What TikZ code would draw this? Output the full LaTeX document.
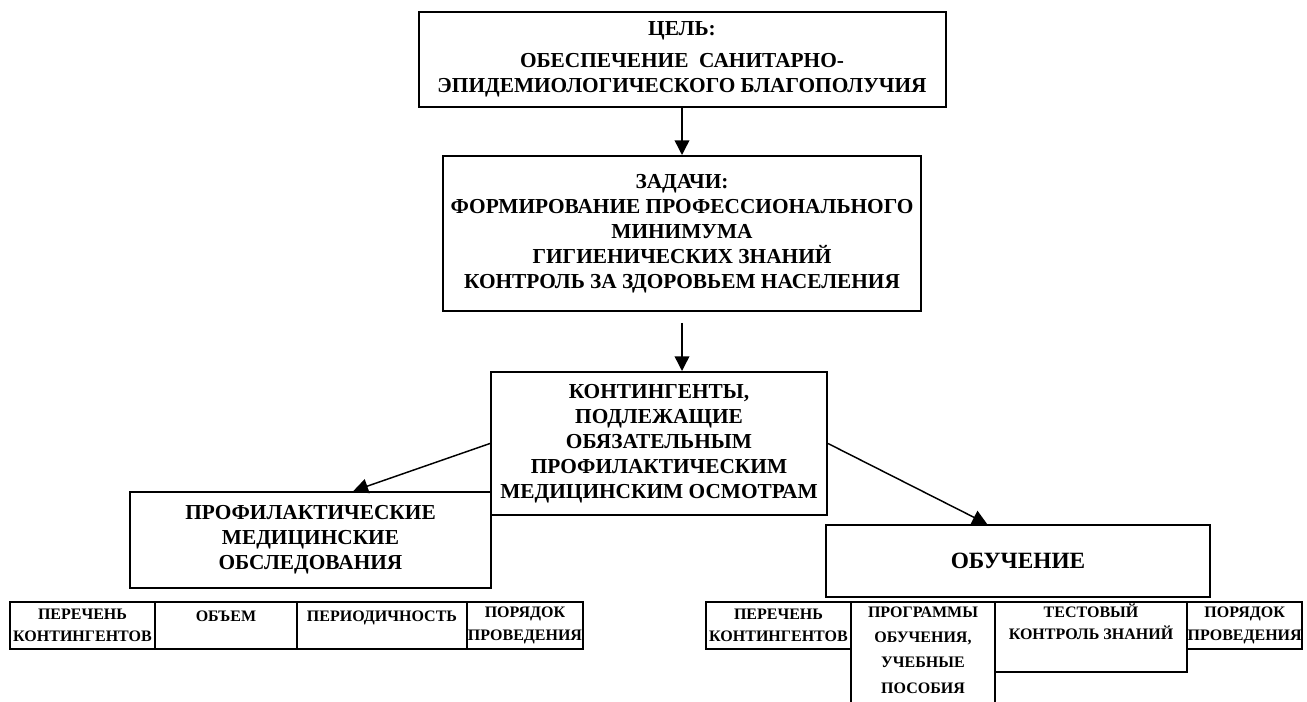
\documentclass[tikz,border=0pt]{standalone}
\usepackage{fontspec}
\setmainfont{Liberation Serif}
\usetikzlibrary{arrows.meta,calc,positioning}

\begin{document}
\begin{tikzpicture}[x=0.75pt,y=-0.75pt,>={Triangle[length=11pt,width=11pt]},
        box/.style = {draw, line width=1.5pt, align=center, inner sep=2pt, font=\fontsize{16}{18.75}\selectfont\bfseries},
        cell/.style = {draw, line width=1.5pt, align=center, inner xsep=0.5pt, inner ysep=1pt, outer sep=0pt, anchor=north west, font=\fontsize{12}{17}\selectfont\bfseries},
        link/.style = {->, line width=1.1pt}]
        \useasboundingbox (0,0) rectangle (1307,702);

        \node[box, minimum width=395.25pt, minimum height=71.25pt] (goal) at (682,59.5) {ЦЕЛЬ:\\[5pt] ОБЕСПЕЧЕНИЕ~~САНИТАРНО-\\ЭПИДЕМИОЛОГИЧЕСКОГО БЛАГОПОЛУЧИЯ};
        \node[box, minimum width=358.5pt, minimum height=116.25pt] (tasks) at (682,233.5) {ЗАДАЧИ:\\ФОРМИРОВАНИЕ ПРОФЕССИОНАЛЬНОГО\\МИНИМУМА\\ГИГИЕНИЧЕСКИХ ЗНАНИЙ\\КОНТРОЛЬ ЗА ЗДОРОВЬЕМ НАСЕЛЕНИЯ};
        \node[box, minimum width=252pt, minimum height=107.25pt] (cont) at (659,443.5) {КОНТИНГЕНТЫ,\\ПОДЛЕЖАЩИЕ\\ОБЯЗАТЕЛЬНЫМ\\ПРОФИЛАКТИЧЕСКИМ\\МЕДИЦИНСКИМ ОСМОТРАМ};
        \node[box, minimum width=270.75pt, minimum height=72pt] (prof) at (310.5,540) {ПРОФИЛАКТИЧЕСКИЕ\\МЕДИЦИНСКИЕ\\ОБСЛЕДОВАНИЯ};
        \node[box, minimum width=288pt, minimum height=54pt, font=\fontsize{17.5}{20}\selectfont\bfseries] (study) at (1018,561) {ОБУЧЕНИЕ};

        % left row
        \node[cell, minimum width=108.75pt, minimum height=35.25pt] (l1) at (10,602) {ПЕРЕЧЕНЬ\\КОНТИНГЕНТОВ};
        \node[cell, minimum width=106.5pt, minimum height=35.25pt] (l2) at (l1.north east) {ОБЪЕМ\\[-3pt]\mbox{}};
        \node[cell, minimum width=127.5pt, minimum height=35.25pt] (l3) at (l2.north east) {ПЕРИОДИЧНОСТЬ\\[-3pt]\mbox{}};
        \node[cell, minimum width=87pt, minimum height=35.25pt] (l4) at (l3.north east) {ПОРЯДОК\\ПРОВЕДЕНИЯ};

        % right row
        \node[cell, minimum width=108.75pt, minimum height=35.25pt] (r1) at (706,602) {ПЕРЕЧЕНЬ\\КОНТИНГЕНТОВ};
        \node[cell, minimum width=108pt, minimum height=82.5pt] (r2) at (r1.north east) {ПРОГРАММЫ\\[2pt]ОБУЧЕНИЯ,\\[2pt]УЧЕБНЫЕ\\[2pt]ПОСОБИЯ\\[-6.5pt]\mbox{}};
        \node[cell, minimum width=144pt, minimum height=52.5pt] (r3) at (r2.north east) {ТЕСТОВЫЙ\\КОНТРОЛЬ ЗНАНИЙ\\[6pt]\mbox{}};
        \node[cell, minimum width=86.25pt, minimum height=35.25pt] (r4) at (r3.north east) {ПОРЯДОК\\ПРОВЕДЕНИЯ};

        \coordinate (t1) at (682,323);

        \draw[link] (goal.south) -- (goal.south |- tasks.north);
        \draw[link] (t1) -- (t1 |- cont.north);
        \draw[link] (cont.west) -- ($(prof.north west)!0.618!(prof.north east)$);
        \draw[link] (cont.east) -- ($(study.north west)!0.42!(study.north east)$);
\end{tikzpicture}
\end{document}
